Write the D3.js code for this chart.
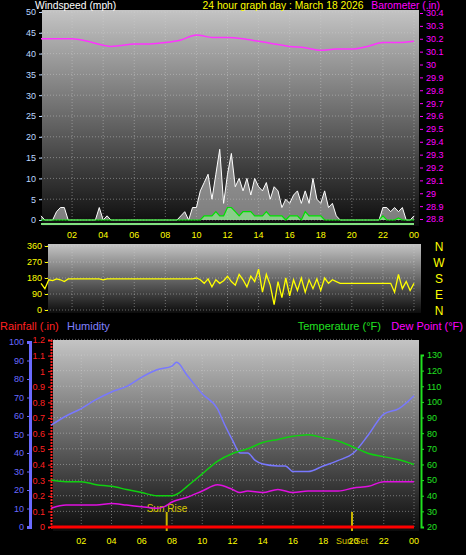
<!DOCTYPE html>
<html><head><meta charset="utf-8">
<script src="https://cdn.jsdelivr.net/npm/d3@7"></script>
<style>body{margin:0;background:#000}svg{display:block;font-family:"Liberation Sans",Arial,sans-serif}</style>
</head><body><svg id="c" width="466" height="555"></svg>
<script>
// hourly / 15-minute readings
var hourLabels = ['02','04','06','08','10','12','14','16','18','20','22','00'];
var baroHours = [0,1,2,3,4,4.5,5,6,7,8,9,10,10.3,11,12,13,14,15,16,17,18,19,20,21,22,23,24];
var baroVals = [30.2,30.2,30.2,30.18,30.15,30.14,30.145,30.16,30.16,30.17,30.19,30.23,30.225,30.21,30.21,30.2,30.18,30.16,30.14,30.13,30.11,30.12,30.12,30.14,30.17,30.17,30.18];
var gustVals = [1,0,0,0, 2,3,3,0, 0,0,0,0, 0,0,0,3, 0,1,0,0,
  0,0,0,0, 0,0,0,0, 0,0,0,0, 0,0,0,0,
  1,2,0,3, 3,7,9,11, 5,11,17,4, 11,16,8,10, 7,10,6,10, 8,7,9,5, 8,7,3,5,
  4,6,7,4, 7,4,10,5, 4,7,3,4, 1,0,0,0, 0,0,0,0, 0,0,0,0, 3,3,2,3, 2,3,0,0, 1];
var windVals = [0,0,0,0, 0,0,0,0, 0,0,0,0, 0,0,0,0, 0,0,0,0,
  0,0,0,0, 0,0,0,0, 0,0,0,0, 0,0,0,0,
  0,0,0,0, 0,0,1,1, 1,2,1,1, 3,3,2,1, 2,2,2,1, 1,1,2,1, 1,1,1,0,
  1,1,1,0, 2,1,1,1, 1,0,0,0, 0,0,0,0, 0,0,0,0, 0,0,0,0, 1,0,0,0, 0.5,0,0,0, 0];
var dirVals = [150,120,170,165, 175,170,160,175, 175,175,175,175, 175,175,175,175, 170,175,175,175,
  175,175,175,175, 175,175,175,175, 175,175,175,175, 175,175,175,175, 175,175,175,175,
  180,170,150,175, 130,170,150,165, 190,160,140,200, 170,130,190,160, 230,100,200,140,
  30,160,70,180, 80,170,110,180, 100,170,120,175, 110,180,150,170, 160,150,150,150,
  150,150,150,150, 150,150,150,150, 150,150,150,100, 200,120,160,110, 150];
var humHours = [0,1,2,3,4,5,6,7,8,8.3,9,10,11,11.5,12,12.5,13,13.5,14,15,15.5,16,17,18,19,20,21,22,23,24];
var humVals = [55,60,64,69,73,76,81,85,87,89,82,72,64,55,47,40,40,36,34,33,33,30,30,33,36,40,50,61,64,71];
var tempHours = [0,1,2,3,4,5,6,7,8,8.5,9,10,11,12,13,14,15,16,17,18,19,20,20.5,21,22,23,24];
var tempVals = [50,49,49,47,46,44,42,40,40,42,46,54,62,67,70,74,76,78,79,77,75,71,69,67,65,63,60];
var dewHours = [0,1,2,3,4,5,6,7,7.5,8,9,10,11,12,12.5,13,14,15,16,17,18,19,20,21,22,23,24];
var dewVals = [32,34,34,34,35,34,33,32,33,36,39,43,47,44,42,43,42,44,42,43,43,43,45,46,49,49,49];
var rainHours = [0,24];
var rainVals = [0,0];
var sunRise = 7.65, sunSet = 19.9;

var svg = d3.select('#c');
var defs = svg.append('defs');
var grad = defs.append('linearGradient').attr('id','bg').attr('x1',0).attr('x2',0).attr('y1',0).attr('y2',1);
grad.append('stop').attr('offset','0%').attr('stop-color','#c4c4c4');
grad.append('stop').attr('offset','100%').attr('stop-color','#0c0c0c');

function panel(x0, x1, y0, y1) {
	svg.append('rect').attr('x',x0).attr('y',y0).attr('width',x1-x0).attr('height',y1-y0).attr('fill','url(#bg)');
}
function text(x, y, s, col, anchor, size) {
	return svg.append('text').attr('x',x).attr('y',y).attr('fill',col).attr('font-size',size||11)
		.attr('text-anchor',anchor||'start').text(s);
}
function grid(x, y, ticksY) {
	var g = svg.append('g');
	d3.range(2,25,2).forEach(function(h){
		g.append('line').attr('x1',x(h)).attr('x2',x(h)).attr('y1',y.range()[1]).attr('y2',y.range()[0])
			.attr('stroke','#d0d0d0').attr('stroke-opacity',0.45).attr('stroke-dasharray','1,2');
	});
	ticksY.forEach(function(v){
		g.append('line').attr('x1',x(0)).attr('x2',x(24)).attr('y1',y(v)).attr('y2',y(v))
			.attr('stroke','#d0d0d0').attr('stroke-opacity',0.45).attr('stroke-dasharray','1,2');
	});
}
function axisStyle(g, col) {
	g.selectAll('path').attr('stroke',col);
	g.selectAll('line').attr('stroke',col);
	g.selectAll('text').attr('fill',col).attr('font-size',9).attr('font-family','"Liberation Sans",Arial,sans-serif');
}
var q = d3.range(0,24.01,0.25);

/* ---------- wind panel ---------- */
var x1 = d3.scaleLinear().domain([0,24]).range([41,414]);
var yW = d3.scaleLinear().domain([0,50]).range([220,12]);
var yB = d3.scaleLinear().domain([28.8,30.4]).range([219,13]);
panel(42,419,10,226);
grid(x1, yW, d3.range(0,51,5));
text(35,9,'Windspeed (mph)','#fff','start',10.3);
text(283,9,'24 hour graph day : March 18 2026','#ffff00','middle',10.3);
text(440,9,'Barometer (.in)','#ff00ff','end',10.3);
axisStyle(svg.append('g').attr('transform','translate(42,0)').call(d3.axisLeft(yW).tickValues(d3.range(0,51,5)).tickSize(3)), '#bcd8ff');
svg.selectAll('.domain').remove();
var gb = svg.append('g').attr('transform','translate(420,0)').call(d3.axisRight(yB).tickValues(d3.range(28.8,30.41,0.1)).tickSize(3).tickFormat(d3.format('~g')));
axisStyle(gb, '#ff00ff'); gb.select('.domain').remove();

svg.append('path').datum(gustVals)
	.attr('d', d3.area().x(function(d,i){return x1(q[i]);}).y0(yW(0)).y1(function(d){return yW(d);}))
	.attr('fill','#c8c8c8').attr('fill-opacity',0.6);
svg.append('path').datum(gustVals)
	.attr('d', d3.line().x(function(d,i){return x1(q[i]);}).y(function(d){return yW(d);}))
	.attr('fill','none').attr('stroke','#ffffff').attr('stroke-width',1);
svg.append('path').datum(windVals)
	.attr('d', d3.area().x(function(d,i){return x1(q[i]);}).y0(yW(0)).y1(function(d){return yW(d);}))
	.attr('fill','#90ee90').attr('fill-opacity',0.7);
svg.append('path').datum(windVals)
	.attr('d', d3.line().x(function(d,i){return x1(q[i]);}).y(function(d){return yW(d);}))
	.attr('fill','none').attr('stroke','#00e000').attr('stroke-width',1.2);
svg.append('line').attr('x1',x1(0)).attr('x2',x1(24)).attr('y1',224).attr('y2',224).attr('stroke','#80e080').attr('stroke-width',2);
svg.append('path').datum(baroVals)
	.attr('d', d3.line().x(function(d,i){return x1(baroHours[i]);}).y(function(d){return yB(d);}).curve(d3.curveMonotoneX))
	.attr('fill','none').attr('stroke','#ff33ff').attr('stroke-width',1.5);
hourLabels.forEach(function(s,i){ text(x1(2+2*i),238,s,'#ffff00','middle',9); });

/* ---------- direction panel ---------- */
var yD = d3.scaleLinear().domain([0,360]).range([310,246]);
panel(48,421,244,313);
grid(x1, yD, [0,90,180,270,360]);
var gd = svg.append('g').attr('transform','translate(48,0)').call(d3.axisLeft(yD).tickValues([0,90,180,270,360]).tickSize(3));
axisStyle(gd, '#ffff00'); gd.select('.domain').remove();
svg.append('path').datum(dirVals)
	.attr('d', d3.line().x(function(d,i){return x1(q[i]);}).y(function(d){return yD(d);}))
	.attr('fill','none').attr('stroke','#ffff00').attr('stroke-width',1.3);
['N','W','S','E','N'].forEach(function(s,i){ text(439,yD(360-90*i)+5,s,'#ffff00','middle',12); });

/* ---------- temperature panel ---------- */
var x3 = d3.scaleLinear().domain([0,24]).range([51,414]);
var yH = d3.scaleLinear().domain([0,100]).range([527,342]);
var yR = d3.scaleLinear().domain([0,1.2]).range([527,340]);
var yT = d3.scaleLinear().domain([20,130]).range([527,355]);
panel(53,419,340,531);
grid(x3, yT, d3.range(20,141,10));
text(0,330,'Rainfall (.in)','#ff2020');
text(67,330,'Humidity','#8080ff');
text(381,330,'Temperature (°F)','#20e020','end');
text(463,330,'Dew Point (°F)','#ff00ff','end');
var gh = svg.append('g').attr('transform','translate(30,0)').call(d3.axisLeft(yH).tickValues(d3.range(0,101,10)).tickSize(3));
axisStyle(gh, '#6a6aff'); gh.select('.domain').attr('stroke-width',3);
var gr = svg.append('g').attr('transform','translate(51,0)').call(d3.axisLeft(yR).tickValues(d3.range(0,1.21,0.1)).tickSize(3).tickFormat(d3.format('~g')));
axisStyle(gr, '#ff2020'); gr.select('.domain').attr('stroke-dasharray','2,1').attr('stroke-width',2);
var gt = svg.append('g').attr('transform','translate(421,0)').call(d3.axisRight(yT).tickValues(d3.range(20,131,10)).tickSize(3));
axisStyle(gt, '#20e020'); gt.select('.domain').attr('stroke-width',2);

svg.append('line').attr('x1',x3(sunRise)).attr('x2',x3(sunRise)).attr('y1',512).attr('y2',531).attr('stroke','#c8b400').attr('stroke-width',2);
svg.append('line').attr('x1',x3(sunSet)).attr('x2',x3(sunSet)).attr('y1',512).attr('y2',531).attr('stroke','#c8b400').attr('stroke-width',2);
text(x3(sunRise)-20,512,'Sun Rise','#d8c800','start',10);

function series(hours, vals, y, col, w) {
	svg.append('path').datum(vals)
		.attr('d', d3.line().x(function(d,i){return x3(hours[i]);}).y(function(d){return y(d);}).curve(d3.curveMonotoneX))
		.attr('fill','none').attr('stroke',col).attr('stroke-width',w||1.5);
}
series(humHours, humVals, yH, '#7878ff');
series(tempHours, tempVals, yT, '#10d010');
series(dewHours, dewVals, yT, '#e010e0');
series(rainHours, rainVals, yR, '#ff0000', 3);
hourLabels.forEach(function(s,i){ text(x3(2+2*i),544,s,'#ffff00','middle',9); });
text(x3(sunSet),544,'Sun Set','#d8c800','middle',9);
</script></body></html>
